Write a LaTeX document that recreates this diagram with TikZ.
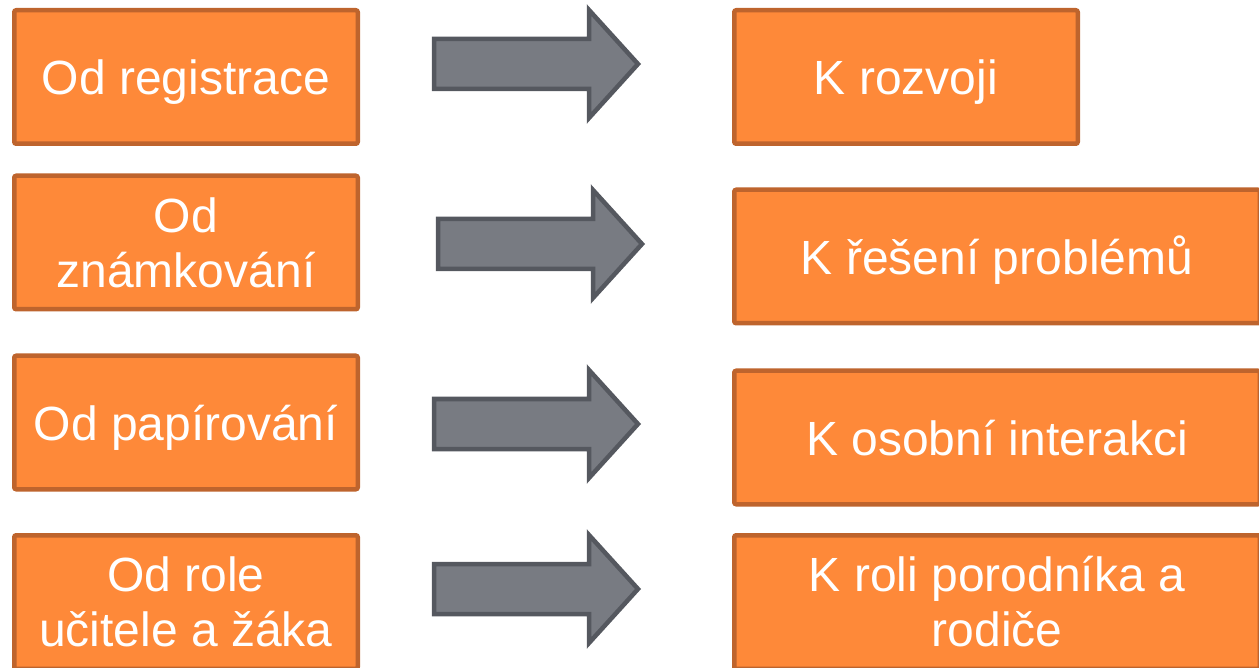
\documentclass[tikz,border=0pt]{standalone}
\usepackage{fontspec}
\setmainfont{Liberation Sans}
\usepackage{tikz}
\usetikzlibrary{positioning}

\definecolor{boxfill}{RGB}{254,137,57}
\definecolor{boxline}{RGB}{190,100,45}
\definecolor{arrowfill}{RGB}{120,123,130}
\definecolor{arrowline}{RGB}{85,88,95}

\begin{document}
\begin{tikzpicture}[x=1pt, y=-1pt, every node/.style = {shape=rectangle, rounded corners=2pt, align=center}]
			\tikzset{
				stage/.style = {
					draw=boxline, line width=4.5pt, fill=boxfill, text=white,
					inner sep=0pt, font=\fontsize{48}{55}\selectfont
				},
				stageleft/.style = { stage, minimum width=343.5pt, minimum height=133.5pt },
				stageshort/.style = { stage, minimum width=343.5pt, minimum height=133.5pt },
				stagewide/.style = { stage, minimum width=525.5pt, minimum height=133.5pt },
				oneline/.style = { text height=36pt, text depth=0pt },
				shift arrow/.style = { draw=arrowline, fill=arrowfill, line width=4.5pt, line join=miter }
			}

			\useasboundingbox (0,0) rectangle (1259,668);
			\clip (0,0) rectangle (1259,668);

			% odkud
			\node [stageleft, oneline] (from1) at (186,77)    {Od registrace};
			\node [stageleft]          (from2) at (186,242.5) {Od\\známkování};
			\node [stageleft, oneline] (from3) at (186,422.5) {Od papírování};
			\node [stageleft]          (from4) at (186,602)   {Od role\\učitele a žáka};

			% kam
			\node [stageshort, oneline] (to1) at (906,77)    {K rozvoji};
			\node [stagewide, oneline]  (to2) at (997,256.5) {K řešení problémů};
			\node [stagewide, oneline]  (to3) at (997,437.5) {K osobní interakci};
			\node [stagewide]           (to4) at (997,602)   {K roli porodníka a\\rodiče};

			% sipky
			\foreach \y/\dx in {64/0, 244/4, 424/0, 589/0} {
				\draw [shift arrow]
					(434+\dx,\y-25) -- (589+\dx,\y-25) -- (589+\dx,\y-54) -- (638+\dx,\y)
					-- (589+\dx,\y+54) -- (589+\dx,\y+25) -- (434+\dx,\y+25) -- cycle;
			}
		\end{tikzpicture}
\end{document}
